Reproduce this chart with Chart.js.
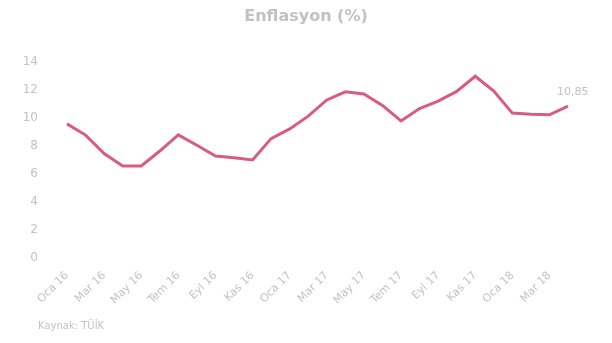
<!DOCTYPE html>
<html>
<head>
<meta charset="utf-8">
<script src="https://cdn.jsdelivr.net/npm/chart.js@4/dist/chart.umd.min.js"></script>
<style>
  html, body { margin: 0; padding: 0; background: #fff; }
  #wrap { width: 612px; height: 343px; position: relative; }
</style>
</head>
<body>
<div id="wrap"><canvas id="enflasyon-chart"></canvas></div>
<script>
// Aylar (Ocak 2016 - Nisan 2018)
const aylar = [
    'Oca 16', 'Şub 16', 'Mar 16', 'Nis 16', 'May 16', 'Haz 16', 'Tem 16', 'Ağu 16', 'Eyl 16', 'Eki 16', 'Kas 16', 'Ara 16',
    'Oca 17', 'Şub 17', 'Mar 17', 'Nis 17', 'May 17', 'Haz 17', 'Tem 17', 'Ağu 17', 'Eyl 17', 'Eki 17', 'Kas 17', 'Ara 17',
    'Oca 18', 'Şub 18', 'Mar 18', 'Nis 18'
];
// Yıllık TÜFE (%)
const enflasyon = [
    9.58, 8.78, 7.46, 6.57, 6.58, 7.64, 8.79, 8.05, 7.28, 7.16, 7.00, 8.53,
    9.22, 10.13, 11.29, 11.87, 11.72, 10.90, 9.79, 10.68, 11.20, 11.90, 12.98, 11.92,
    10.35, 10.26, 10.23, 10.85
];
const yTicks = [0, 2, 4, 6, 8, 10, 12, 14];
const baslik = 'Enflasyon (%)';
const kaynak = 'Kaynak: TÜİK';

const soluk = '#c2c2c2';
const yazi = '"DejaVu Sans", sans-serif';

// başlık, son değer ve kaynak yazıları
const ekYazilar = {
    id: 'ekYazilar',
    afterDatasetsDraw(chart) {
        const ctx = chart.ctx;
        const meta = chart.getDatasetMeta(0);
        const son = meta.data[meta.data.length - 1];
        ctx.save();
        ctx.fillStyle = soluk;
        ctx.textBaseline = 'middle';

        ctx.font = 'bold 16px ' + yazi;
        ctx.textAlign = 'center';
        ctx.fillText(baslik, chart.width / 2, 17);

        ctx.textAlign = 'left';
        ctx.font = '11px ' + yazi;
        ctx.fillText(enflasyon[enflasyon.length - 1].toFixed(2).replace('.', ','), son.x - 11, son.y - 14);

        ctx.font = '10px ' + yazi;
        ctx.fillText(kaynak, 38, 326);
        ctx.restore();
    }
};

new Chart(document.getElementById('enflasyon-chart'), {
    type: 'line',
    data: {
        labels: aylar,
        datasets: [{
            label: baslik,
            data: enflasyon,
            borderColor: '#d95c7f',
            borderWidth: 3,
            pointRadius: 0,
            tension: 0,
            fill: false
        }]
    },
    options: {
        responsive: true,
        maintainAspectRatio: false,
        animation: false,
        layout: { padding: { left: 0, right: 44, top: 62, bottom: 0 } },
        plugins: {
            legend: { display: false },
            tooltip: { enabled: false },
            title: { display: false }
        },
        scales: {
            x: {
                offset: false,
                grid: { display: false },
                border: { display: false },
                afterFit(scale) { scale.height = 85; },
                ticks: {
                    color: soluk,
                    autoSkip: false,
                    maxRotation: 45,
                    minRotation: 45,
                    font: { family: yazi, size: 11 },
                    callback(value, i) { return i % 2 === 0 ? aylar[i] : ''; }
                }
            },
            y: {
                min: 0,
                max: 14,
                afterFit(scale) { scale.width = 67; },
                afterBuildTicks(scale) { scale.ticks = yTicks.map(v => ({ value: v })); },
                grid: { display: false, drawTicks: false },
                border: { display: false },
                ticks: {
                    color: soluk,
                    padding: 29,
                    font: { family: yazi, size: 12 }
                }
            }
        }
    },
    plugins: [ekYazilar]
});
</script>
</body>
</html>
